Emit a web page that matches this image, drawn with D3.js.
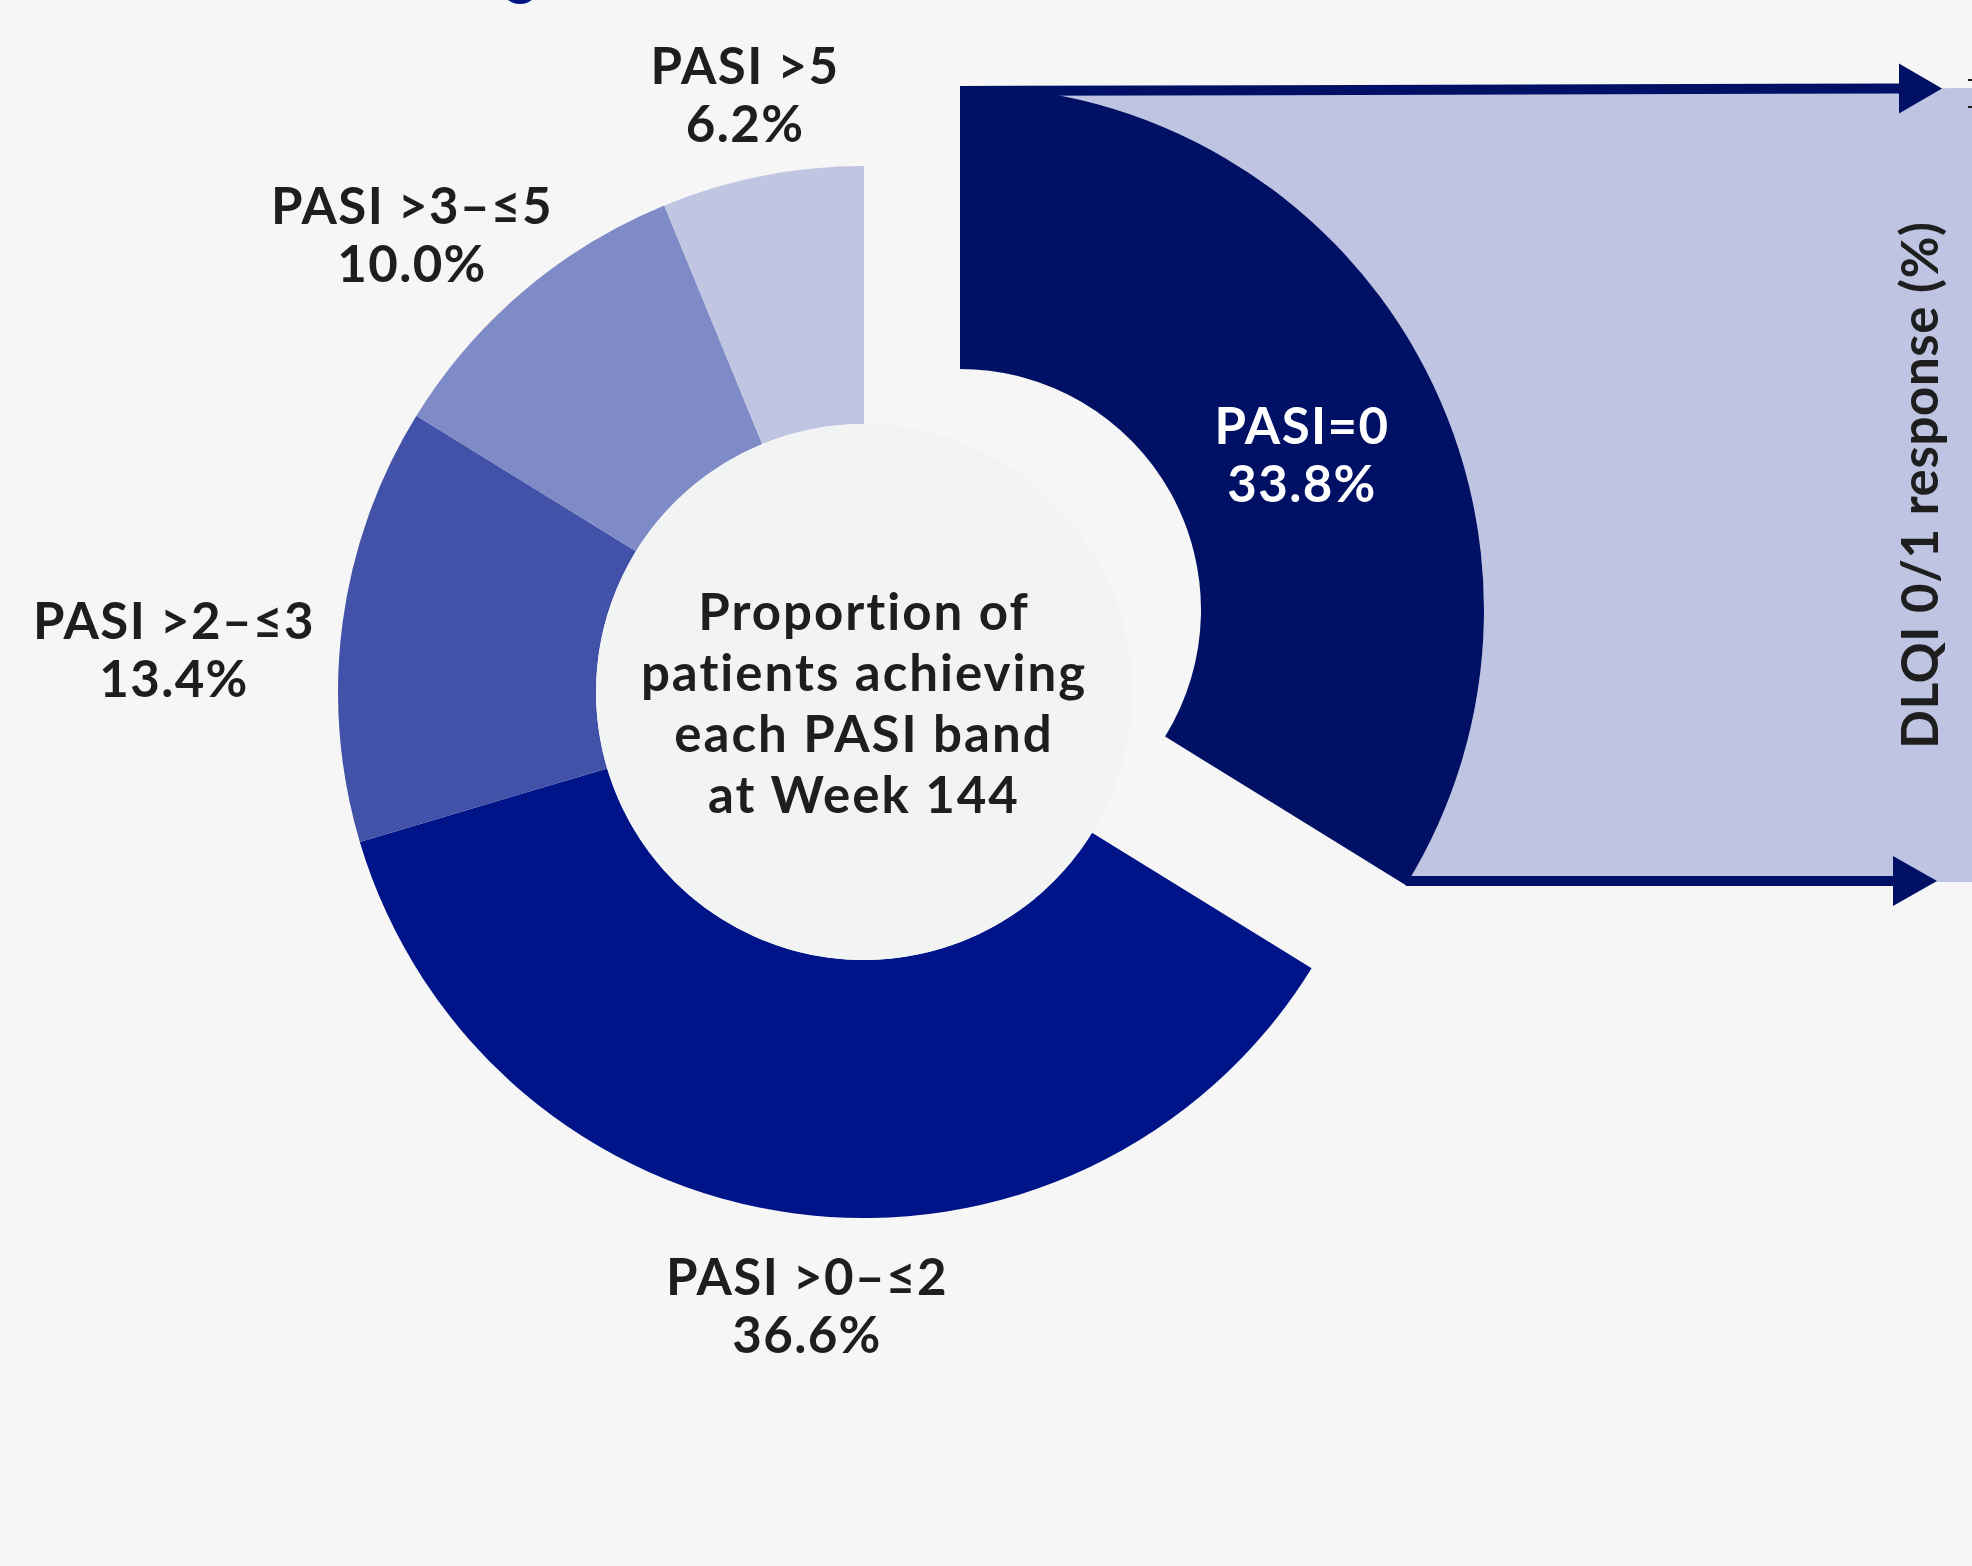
<!DOCTYPE html>
<html>
<head>
<meta charset="utf-8">
<script src="https://cdn.jsdelivr.net/npm/d3@7"></script>
<style>
  html, body { margin: 0; padding: 0; background: #f6f6f6; }
  svg { display: block; }
  text { font-family: Lato, "Open Sans", sans-serif; font-weight: 700; }
</style>
</head>
<body>
<svg id="chart" width="1972" height="1566"></svg>
<script>
// ---- data ----
const categories = ["PASI=0", "PASI >0–≤2", "PASI >2–≤3", "PASI >3–≤5", "PASI >5"];
const values = [33.8, 36.6, 13.4, 10.0, 6.2];
const centerLines = ["Proportion of", "patients achieving", "each PASI band", "at Week 144"];
const sideTitle = "DLQI 0/1 response (%)";

// ---- styles / layout ----
const sliceColors = ["#001064", "#001489", "#4152a8", "#7f8bc6", "#c0c5e2"];
const W = 1972, H = 1566;
const main = { cx: 864, cy: 692, r0: 268, r1: 526 };
const expl = { cx: 960, cy: 610, r0: 241, r1: 524 };
const labelPos = [
  { x: 1302, y: 444, fill: "#ffffff" },
  { x: 807, y: 1295, fill: "#1e1e1e" },
  { x: 174, y: 639, fill: "#1e1e1e" },
  { x: 412, y: 224, fill: "#1e1e1e" },
  { x: 745, y: 84, fill: "#1e1e1e" }
];
const lineGap = 58;
const fontSize = 51;
const navy = "#001064";
const lilac = "#bfc4e2";

const svg = d3.select("#chart");
svg.append("rect").attr("width", W).attr("height", H).attr("fill", "#f6f6f6");

const pie = d3.pie().sort(null).value(d => d)(values);
const first = pie[0];

// corner of exploded slice (outer radius, end angle)
const cornerX = expl.cx + expl.r1 * Math.sin(first.endAngle);
const cornerY = expl.cy - expl.r1 * Math.cos(first.endAngle);
const bandRight = W;
const bandTopL = 94, bandTopR = 88, bandBottom = 882;

// lilac band behind the exploded slice
const p = d3.path();
p.moveTo(expl.cx, bandTopL);
p.lineTo(bandRight, bandTopR);
p.lineTo(bandRight, bandBottom);
p.lineTo(cornerX, bandBottom);
p.lineTo(cornerX, cornerY);
p.arc(expl.cx, expl.cy, expl.r1, first.endAngle - Math.PI / 2, -Math.PI / 2, true);
p.closePath();
svg.append("path").attr("d", p.toString()).attr("fill", lilac);

// small cut-off marks at far right
[80, 107].forEach(y => {
  svg.append("line").attr("x1", W - 4).attr("x2", W).attr("y1", y).attr("y2", y)
    .attr("stroke", "#1e1e1e").attr("stroke-width", 2);
});

// partial dot at top
svg.append("circle").attr("cx", 520).attr("cy", -16).attr("r", 20).attr("fill", "#001489");

// main donut (all slices except the exploded one)
const arcMain = d3.arc().innerRadius(main.r0).outerRadius(main.r1);
const gMain = svg.append("g").attr("transform", `translate(${main.cx},${main.cy})`);
gMain.selectAll("path").data(pie.slice(1)).join("path")
  .attr("d", arcMain)
  .attr("fill", (d, i) => sliceColors[i + 1]);

// centre disc
svg.append("circle").attr("cx", main.cx).attr("cy", main.cy).attr("r", main.r0).attr("fill", "#f2f4f4");

// exploded slice
const arcExpl = d3.arc().innerRadius(expl.r0).outerRadius(expl.r1);
svg.append("g").attr("transform", `translate(${expl.cx},${expl.cy})`)
  .append("path").datum(first).attr("d", arcExpl).attr("fill", sliceColors[0]);

// arrows
function arrow(x1, y1, x2, y2, headLen, headHalf) {
  svg.append("line").attr("x1", x1).attr("y1", y1).attr("x2", x2).attr("y2", y2)
    .attr("stroke", navy).attr("stroke-width", 10);
  svg.append("path")
    .attr("d", `M${x2},${y2 - headHalf}L${x2 + headLen},${y2}L${x2},${y2 + headHalf}Z`)
    .attr("fill", navy);
}
arrow(expl.cx, expl.cy - expl.r1 + 5, 1899, 88.5, 43, 25);
arrow(cornerX, 881, 1893, 881, 44, 25);

// slice labels
const fmt = d3.format(".1f");
pie.forEach((d, i) => {
  const t = svg.append("text")
    .attr("text-anchor", "middle")
    .attr("font-size", fontSize)
    .attr("letter-spacing", 1.4)
    .attr("fill", labelPos[i].fill);
  t.append("tspan").attr("x", labelPos[i].x).attr("y", labelPos[i].y).text(categories[i]);
  t.append("tspan").attr("x", labelPos[i].x).attr("y", labelPos[i].y + lineGap).text(fmt(values[i]) + "%");
});

// centre text
const ct = svg.append("text").attr("text-anchor", "middle").attr("font-size", fontSize)
  .attr("letter-spacing", 2).attr("fill", "#1e1e1e");
centerLines.forEach((s, i) => {
  ct.append("tspan").attr("x", main.cx).attr("y", 630 + i * 61).text(s);
});

// vertical side title
svg.append("text")
  .attr("transform", "translate(1938,485) rotate(-90)")
  .attr("text-anchor", "middle")
  .attr("font-size", 51)
  .attr("letter-spacing", 0.6)
  .attr("fill", "#1e1e1e")
  .text(sideTitle);
</script>
</body>
</html>
